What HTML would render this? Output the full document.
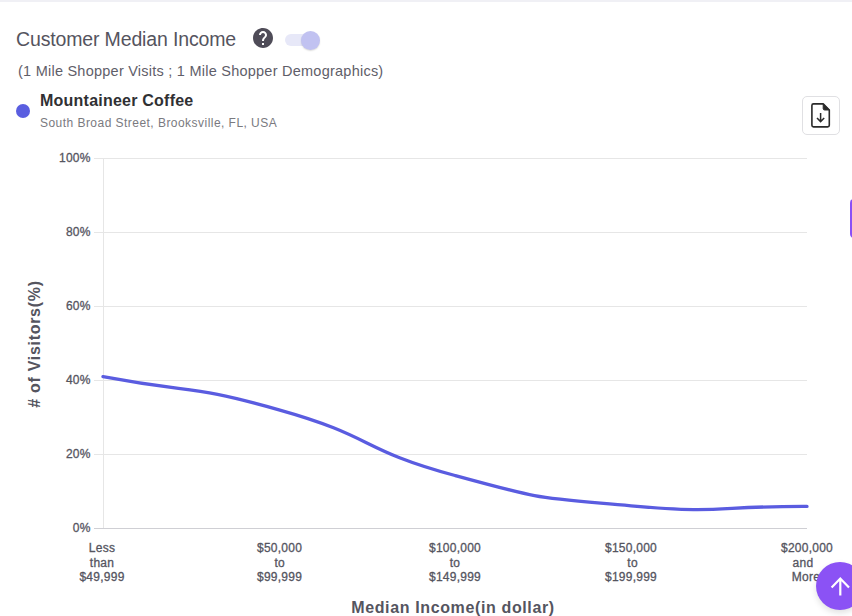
<!DOCTYPE html>
<html><head><meta charset="utf-8">
<style>
html,body{margin:0;padding:0;background:#fff;width:852px;height:616px;overflow:hidden;position:relative;font-family:"Liberation Sans",sans-serif;}
.topline{position:absolute;left:0;top:0;width:852px;height:2px;background:#f0f0f5;}
.title{position:absolute;left:16px;top:28px;font-size:19.5px;letter-spacing:-0.15px;color:#55545e;white-space:nowrap;line-height:22px;}
.track{position:absolute;left:285px;top:34px;width:34px;height:12px;border-radius:6px;background:#e7e8f8;}
.thumb{position:absolute;left:301px;top:31px;width:19.2px;height:19.2px;border-radius:50%;background:#c1c2f1;box-shadow:0 1px 1.5px rgba(0,0,0,0.14);}
.sub{position:absolute;left:18px;top:62.8px;font-size:14.5px;letter-spacing:0.24px;color:#5f5e69;white-space:nowrap;line-height:17px;}
.dot{position:absolute;left:16px;top:104px;width:14px;height:14px;border-radius:50%;background:#5a5ee0;}
.name{position:absolute;left:40px;top:92px;font-size:16px;letter-spacing:0.23px;font-weight:bold;color:#303033;white-space:nowrap;line-height:18px;}
.addr{position:absolute;left:40px;top:116px;font-size:12px;letter-spacing:0.46px;color:#7a7a80;white-space:nowrap;line-height:14px;}
.export{position:absolute;left:802px;top:96px;width:36px;height:37px;border:1px solid #e0e0e3;border-radius:5px;background:#fff;}
.edge{position:absolute;left:850px;top:199px;width:12px;height:39px;border-radius:4px;background:#8a4ff6;}
.fab{position:absolute;left:816px;top:562px;width:48px;height:48px;border-radius:50%;background:#8b52f5;box-shadow:0 3px 6px rgba(0,0,0,0.12);}
svg.chart{position:absolute;left:0;top:0;}
</style></head><body>
<div class="topline"></div>
<div class="title">Customer Median Income</div>
<svg width="24" height="24" viewBox="0 0 24 24" style="position:absolute;left:250.7px;top:25.6px"><path fill="#4f4c58" d="M12 2C6.48 2 2 6.48 2 12s4.48 10 10 10 10-4.48 10-10S17.52 2 12 2zm1 17h-2v-2h2v2zm2.07-7.75l-.9.92C13.45 12.9 13 13.5 13 15h-2v-.5c0-1.1.45-2.1 1.17-2.83l1.24-1.26c.37-.36.59-.86.59-1.41 0-1.1-.9-2-2-2s-2 .9-2 2H8c0-2.210 1.79-4 4-4s4 1.79 4 4c0 .88-.36 1.68-.93 2.25z"/></svg>
<div class="track"></div>
<div class="thumb"></div>
<div class="sub">(1 Mile Shopper Visits ; 1 Mile Shopper Demographics)</div>
<div class="dot"></div>
<div class="name">Mountaineer Coffee</div>
<div class="addr">South Broad Street, Brooksville, FL, USA</div>
<div class="export"></div>
<svg width="852" height="616" style="position:absolute;left:0;top:0">
  <path d="M813.5 103.9 H823.2 L829.3 110 V125.3 Q829.3 126.9 827.7 126.9 H813.5 Q811.9 126.9 811.9 125.3 V105.5 Q811.9 103.9 813.5 103.9 Z" fill="none" stroke="#2a2a2a" stroke-width="1.6" stroke-linejoin="round"/>
  <path d="M823.2 103.9 L829.3 110 H824.6 Q823.2 110 823.2 108.6 Z" fill="#2a2a2a" stroke="#2a2a2a" stroke-width="1" stroke-linejoin="round"/>
  <path d="M820.6 113 V121.3 M817 118 L820.6 121.6 L824.2 118" fill="none" stroke="#2a2a2a" stroke-width="1.5"/>
</svg>
<svg class="chart" width="852" height="616" viewBox="0 0 852 616" font-family="Liberation Sans">
  <g stroke="#e6e6e6" stroke-width="1" shape-rendering="crispEdges">
    <line x1="94" y1="158.5" x2="807" y2="158.5"/>
    <line x1="94" y1="232.5" x2="807" y2="232.5"/>
    <line x1="94" y1="306.5" x2="807" y2="306.5"/>
    <line x1="94" y1="380.5" x2="807" y2="380.5"/>
    <line x1="94" y1="454.5" x2="807" y2="454.5"/>
    <line x1="103.5" y1="158" x2="103.5" y2="528"/>
  </g>
  <line x1="94" y1="528.5" x2="807" y2="528.5" stroke="#cfcfd4" stroke-width="1" shape-rendering="crispEdges"/>
  <g font-size="12" fill="#55555f" stroke="#55555f" stroke-width="0.3" letter-spacing="0.2" text-anchor="end">
    <text x="90.6" y="161.7">100%</text>
    <text x="90.6" y="235.7">80%</text>
    <text x="90.6" y="309.7">60%</text>
    <text x="90.6" y="383.7">40%</text>
    <text x="90.6" y="457.7">20%</text>
    <text x="90.6" y="531.7">0%</text>
  </g>
  <g font-size="12" fill="#55555f" stroke="#55555f" stroke-width="0.3" letter-spacing="0.25" text-anchor="middle">
    <text x="102" y="552">Less</text><text x="102" y="566.5">than</text><text x="102" y="580.5">$49,999</text>
    <text x="279.6" y="552">$50,000</text><text x="279.8" y="566.5">to</text><text x="279.6" y="580.5">$99,999</text>
    <text x="455" y="552">$100,000</text><text x="455" y="566.5">to</text><text x="455" y="580.5">$149,999</text>
    <text x="631" y="552">$150,000</text><text x="632.6" y="566.5">to</text><text x="631" y="580.5">$199,999</text>
    <text x="807" y="552">$200,000</text><text x="803" y="566.5">and</text><text x="806" y="580.5">More</text>
  </g>
  <text x="453" y="613" font-size="16" font-weight="bold" fill="#55555f" letter-spacing="0.63" text-anchor="middle">Median Income(in dollar)</text>
  <text transform="translate(40 344) rotate(-90)" font-size="16" font-weight="bold" fill="#55555f" letter-spacing="0.7" text-anchor="middle">#&#160;of Visitors(%)</text>
  <path d="M103.0 376.6 C198.3 394.6 186.0 383.6 279.0 409.8 C376.6 437.2 357.3 448.9 455.0 475.5 C547.9 500.9 535.0 497.4 631.0 505.8 C725.6 514.1 711.7 506.1 807.0 506.4" fill="none" stroke="#5a5ce0" stroke-width="3.3" stroke-linecap="round"/>
</svg>
<div class="edge"></div>
<div class="fab"><svg width="48" height="48" style="position:absolute;left:0;top:0"><path d="M24.3 16 V33.6 M15.6 25.4 L24.3 16.6 L33 25.4" fill="none" stroke="#fff" stroke-width="2.2"/></svg></div>
</body></html>
